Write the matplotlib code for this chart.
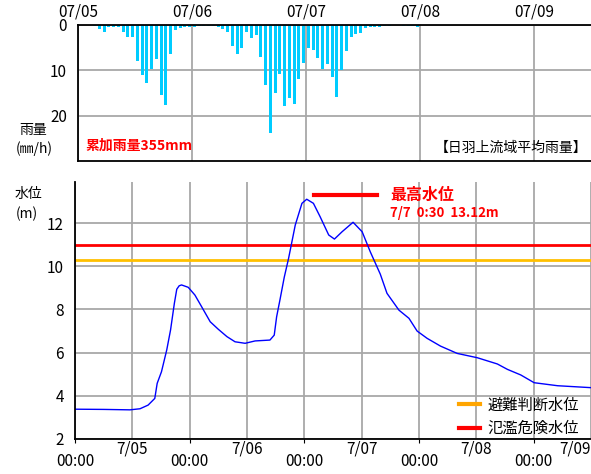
import numpy as np
import matplotlib.pyplot as plt
from matplotlib.lines import Line2D

plt.rcParams['font.family'] = ['Noto Sans CJK JP', 'DejaVu Sans']

# 時間雨量 (7/05 00:00 からの時間, mm/h)
rain_hours = np.arange(3, 72)
rain = [0.3, 0.9, 1.6, 0.5, 0.4, 0.4, 1.5, 2.7, 2.7, 7.9, 11.0, 12.7, 9.7, 7.5,
        15.4, 17.7, 6.5, 1.2, 0.7, 0.5, 0.4, 0.4, 0.3, 0.3, 0.3, 0.3, 0.5, 0.9,
        1.5, 4.6, 6.4, 5.0, 1.6, 2.9, 2.3, 7.0, 13.2, 23.8, 15.1, 10.7, 17.8,
        16.0, 17.4, 11.9, 8.4, 5.1, 5.6, 7.3, 9.7, 8.6, 11.5, 15.9, 10.0, 5.7,
        2.6, 1.9, 1.7, 0.7, 0.4, 0.4, 0.4, 0.3, 0.3, 0.0, 0.0, 0.3, 0.3, 0.3, 0.4]

# 水位 (時間, m)
wl_hours = [0, 6, 11.5, 13.6, 15.3, 16.7, 17.2, 18.1, 19.2, 20.0, 20.8, 21.3,
            21.8, 22.3, 23.7, 25.1, 26.5, 28.3, 30.0, 31.8, 33.5, 35.6, 37.7,
            40.8, 41.7, 42.2, 42.9, 43.8, 44.7, 46.1, 47.5, 48.5, 49.9, 51.3,
            53.1, 54.3, 55.9, 58.2, 60.1, 61.8, 63.9, 65.3, 67.8, 69.9, 71.6,
            73.7, 76.5, 80.0, 84.2, 88.4, 90.5, 93.3, 96.1, 101, 108]
wl = [3.37, 3.36, 3.34, 3.39, 3.56, 3.87, 4.57, 5.11, 6.12, 7.05, 8.29, 8.94,
      9.10, 9.14, 9.03, 8.67, 8.13, 7.43, 7.08, 6.74, 6.50, 6.43, 6.54, 6.58,
      6.81, 7.66, 8.45, 9.50, 10.37, 11.92, 12.93, 13.12, 12.93, 12.31, 11.46,
      11.27, 11.61, 12.05, 11.61, 10.68, 9.64, 8.75, 7.97, 7.59, 7.00, 6.66,
      6.30, 5.96, 5.76, 5.47, 5.22, 4.96, 4.60, 4.46, 4.37]

hinan = 10.3     # 避難判断水位
hanran = 11.0    # 氾濫危険水位
peak_h, peak_wl = 48.5, 13.12

day_ticks = [0, 24, 48, 72, 96]
top_labels = ["07/05", "07/06", "07/07", "07/08", "07/09"]
noon_ticks = [12, 36, 60, 84, 108]
date_labels = ["7/05", "7/06", "7/07", "7/08", "7/09"]

W, H = 591, 474
fig = plt.figure(figsize=(W/100, H/100), dpi=100)

grid_c = '#a8a8a8'

# ---- 雨量 ----
ax1 = fig.add_axes([78/W, 1-161/H, (591-78)/W, (161-25)/H])
ax1.bar(rain_hours + 0.5, rain, width=0.62, color='#00ccff', zorder=3)
ax1.set_xlim(0, 108)
ax1.set_ylim(30, 0)
ax1.set_yticks([0, 10, 20])
ax1.set_xticks(day_ticks)
ax1.set_xticklabels(top_labels)
ax1.xaxis.tick_top()
ax1.tick_params(axis='x', length=0, pad=3.5, labelsize=11)
ax1.tick_params(axis='y', length=0, pad=8, labelsize=11)
ax1.grid(True, color=grid_c, lw=1.3, zorder=0)
ax1.spines['right'].set_visible(False)
for s in ['top', 'left', 'bottom']:
    ax1.spines[s].set_linewidth(1.3)
    ax1.spines[s].set_zorder(4)
ax1.text(0.015, 0.11, "累加雨量355mm", transform=ax1.transAxes, color='#ff0000',
         fontsize=10, fontweight='bold', ha='left', va='center')
fig.text(587/W, 1-148/H, "【日羽上流域平均雨量】", fontsize=10, ha='right', va='center')
fig.text(33/W, 1-130/H, "雨量", fontsize=10, ha='center', va='center')
fig.text(34/W, 1-149/H, "(㎜/h)", fontsize=10, ha='center', va='center')

# ---- 水位 ----
ax2 = fig.add_axes([75/W, 1-438.7/H, (591-75)/W, (438.7-182)/H])
ax2.plot(wl_hours, wl, color='#0000ff', lw=1.0, zorder=4)
ax2.axhline(hanran, color='#ff0000', lw=2.0, zorder=3)
ax2.axhline(hinan, color='#ffc000', lw=2.0, zorder=3)
ax2.set_xlim(0, 108)
ax2.set_ylim(2, 13.92)
ax2.set_yticks([2, 4, 6, 8, 10, 12])
ax2.set_xticks(day_ticks)
ax2.set_xticklabels(["00:00"] * 5)
ax2.set_xticks(noon_ticks, minor=True)
ax2.set_xticklabels(date_labels, minor=True)
ax2.get_xticklabels(minor=True)[-1].set_ha('right')
ax2.tick_params(axis='x', which='major', length=3, pad=7, labelsize=11)
ax2.tick_params(axis='x', which='minor', length=0, pad=1, labelsize=11)
ax2.tick_params(axis='y', length=0, pad=8, labelsize=11)
ax2.grid(True, which='both', color=grid_c, lw=1.3, zorder=0)
ax2.spines['right'].set_visible(False)
ax2.spines['top'].set_visible(False)
for s in ['left', 'bottom']:
    ax2.spines[s].set_linewidth(1.3)
    ax2.spines[s].set_zorder(5)

ax2.plot([peak_h + 1.6, peak_h + 14.8], [13.31, 13.31], color='#ff0000', lw=3, zorder=5)
ax2.text(peak_h + 17.4, 13.33, "最高水位", color='#ff0000', fontsize=11.5,
         fontweight='bold', ha='left', va='center')
ax2.text(peak_h + 17.4, 12.5, "7/7  0:30  %.2fm" % peak_wl, color='#ff0000',
         fontsize=9.5, fontweight='bold', ha='left', va='center')

handles = [Line2D([], [], color='#ffa500', lw=3), Line2D([], [], color='#ff0000', lw=3)]
ax2.legend(handles, ["避難判断水位", "氾濫危険水位"], loc='lower right',
           bbox_to_anchor=(0.986, -0.012), frameon=False, fontsize=11,
           handlelength=1.4, handletextpad=0.5, labelspacing=0.42,
           borderaxespad=0.0, borderpad=0.3)

fig.text(28/W, 1-194/H, "水位", fontsize=10, ha='center', va='center')
fig.text(27/W, 1-214/H, "(m)", fontsize=10, ha='center', va='center')

fig.savefig("out.png", dpi=100)
